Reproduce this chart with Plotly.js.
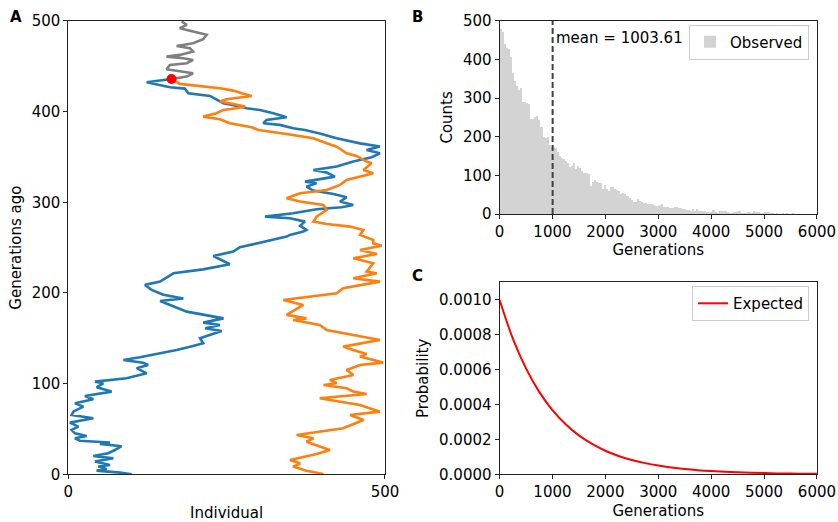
<!DOCTYPE html>
<html><head><meta charset="utf-8">
<script src="https://cdn.plot.ly/plotly-3.0.1.min.js"></script>
<style>html,body{margin:0;padding:0;background:#fff}#chart{width:838px;height:522px}</style>
</head><body><div id="chart"></div>
<script>
// ---------- Panel A: lineages (individual index vs generations ago) ----------
const blueInd = [100,81.6,44.7,60.5,47.4,65.8,42,71,39.5,63,73.7,84,50,65.8,18.4,10.5,29,10.5,5.3,15.8,2.6,39.5,5.3,7.9,23.7,10.5,39.5,26.3,68.4,44.7,55.3,42.1,92,123.7,108,126,118,87,113,145,171,197,213,208,224,242,216,239.5,213,245,187,171,161,145,181.6,150,131.6,121,145,166,213,255,229,260.5,271,302.6,344.7,350,371,376,366,373.7,350,310.5,355,392,431.6,450,429,439.5,418.4,387,376,392,373.7,421,408,387,423.7,450,479,492,471,492,460.5,423.7,397,373.7,355,334,308,313,344.7,323.7,302.6,281.6,271,244.7,234,223.7,189.5,184,160.5,150,123.7,144.7,163];
const blueGen = [0,1.8,4,5.9,8.5,10.3,14,17.6,20.2,23.2,26.8,31,33.5,35,37,39.7,42.3,45.2,48.9,52.6,57,61.8,65.4,69.1,74.6,78.3,82.7,86.4,91.2,96,100.4,102.2,105.9,111.4,117,120.6,123,126,129,133.5,137,141.6,144.5,150,153.7,158,161,164.7,167.3,172,179.4,184.2,186.8,191.2,194,198,203.3,208.9,212.5,221.7,226,231.7,240.8,245.6,250.4,255.5,262.2,264,267.7,269.5,274,278.7,282.4,284.2,288,292.3,294.5,297,300.8,305.6,309.2,313,317.3,321,322.8,328.3,332.8,335.7,339.4,345,349.7,354,357.8,361.5,365,370.6,376,379.8,381.7,385.4,387.2,390.9,393.8,398.2,401.9,403.7,405.6,409.3,413,417.3,420.3,425.4,426.9,428.4,432.4,434.3,436.1];

const orangeInd = [402.6,376,355,366,350,392,413,376,387,360.5,434,466,445,492,460.5,429,397,471,450,439.5,403,423.7,413,450,439.5,460.5,497,460.5,471,450,434,492,450,408,397,355,376,344.7,371,339.5,423.7,434,492,450,487,471,481.5,450,487,460.5,494.7,481.5,481.5,460.5,465.8,444.7,408,387,392,408,402.6,366,344.7,366,408,429,439.5,460.5,481.5,466,479,471,455,439.5,423.7,408,386.8,344.7,300,289.5,271,255,239.5,213,234,244.7,265.8,279,260.5,239.5,250,271,289.5,273.7,260.5,239.5,208,176,163];
const orangeGen = [0.4,4,8.5,12.1,15.8,22.4,26.8,36,39.7,43.4,50.7,59.9,65.4,69.1,76.5,80.2,83.8,88.6,91.2,94.9,98.5,100.4,104.1,109.6,115.1,120.6,123.2,129.8,132.7,137.2,140.8,148.2,153.7,159.2,164.7,170.2,172,175.8,186.8,192.3,199.7,205.2,212.5,216.2,221.7,223.6,232.8,238.3,243,247.5,252,254.8,258.5,264,269.5,273.2,276.1,278.7,284.2,291.6,297.1,300.8,304.5,310,313.6,319.2,324.7,328.3,332,335.7,343,344.9,351.2,354,361.4,365.1,370.6,375.4,379.8,382.8,385.4,387.2,391.6,394.5,398.2,401.9,403.7,405.6,408.5,411.1,413.7,415.9,417.3,420.3,423.2,425.8,428.4,430.6,436.1];

const grayInd = [163,187,197,176,155,160.5,187,197,181.6,155,176,197,192,171,197,213,218.4,197,176,187,179];
const grayGen = [436.1,438.7,442.3,444.2,446.7,451.5,453.4,457,458.9,460.7,462.6,466.3,470,472.5,475.5,479.9,484.7,488.4,492,495.7,499.4];

const mrcaInd = [163];
const mrcaGen = [436.1];

const panelAXTicks = [0, 500];
const panelAYTicks = [0, 100, 200, 300, 400, 500];

// ---------- Panel B: histogram of coalescence times ----------
const histBinStart = 0;
const histBinWidth = 38.7;
const histCounts = [478,470,440,430,428,405,364,345,330,322,326,291,289,288,284,245,246,252,254,244,
  226,200,196,200,179,174,174,170,161,149,144,142,136,133,122,125,133,116,124,118,
  110,105,105,104,72,84,88,84,80,80,64,76,66,60,71,70,66,62,60,52,
  55,52,46,42,36,30,32,38,33,30,28,28,27,26,25,24,22,22,24,26,
  19,19,19,16,16,17,17,16,16,13,13,10,10,7,13,7,13,9,9,7,
  9,4,4,4,10,4,3,7,9,9,8,4,3,3,4,4,7,7,3,3,
  3,4,4,3,9,4,4,2,3,4,5,4,2,2,1,2,1,1,2,1,
  2,1,1,2,1,1,0,1,1,1];
const meanValue = 1003.61;

// ---------- Panel C: expected distribution ----------
const expGen = [0,250,500,750,1000,1250,1500,1750,2000,2250,2500,2750,3000,3250,3500,3750,4000,4250,4500,4750,5000,5250,5500,5750,6000];
const expProb = [0.001,0.000779,0.000607,0.000472,0.000368,0.000287,0.000223,0.000174,0.000135,0.000105,0.000082,0.000064,0.0000498,0.0000388,0.0000302,0.0000235,0.0000183,0.0000143,0.0000111,0.0000087,0.0000067,0.0000052,0.0000041,0.0000032,0.0000025];

const histCenters = histCounts.map((_, i) => histBinStart + histBinWidth * (i + 0.5));

const FONT = 'DejaVu Sans, sans-serif';
const FS = 15;

const traces = [
  {x: grayInd, y: grayGen, type: 'scatter', mode: 'lines', line: {color: '#7f7f7f', width: 2.6}, showlegend: false, xaxis: 'x', yaxis: 'y'},
  {x: blueInd, y: blueGen, type: 'scatter', mode: 'lines', line: {color: '#1f77b4', width: 2.6}, showlegend: false, xaxis: 'x', yaxis: 'y'},
  {x: orangeInd, y: orangeGen, type: 'scatter', mode: 'lines', line: {color: '#ff7f0e', width: 2.6}, showlegend: false, xaxis: 'x', yaxis: 'y'},
  {x: mrcaInd, y: mrcaGen, type: 'scatter', mode: 'markers', marker: {color: '#ff0000', size: 10}, showlegend: false, xaxis: 'x', yaxis: 'y'},
  {x: histCenters, y: histCounts, type: 'bar', width: histBinWidth, marker: {color: '#d3d3d3', line: {width: 0}}, name: 'Observed', legend: 'legend', xaxis: 'x2', yaxis: 'y2'},
  {x: [meanValue, meanValue], y: [0, 500], type: 'scatter', mode: 'lines', line: {color: '#404040', width: 2, dash: '6px,3px'}, showlegend: false, xaxis: 'x2', yaxis: 'y2'},
  {x: expGen, y: expProb, type: 'scatter', mode: 'lines', line: {color: '#ff0000', width: 2, shape: 'spline', smoothing: 1}, name: 'Expected', legend: 'legend2', xaxis: 'x3', yaxis: 'y3'}
];

const axBase = {
  showline: true, mirror: true, linecolor: '#222', linewidth: 1,
  ticks: 'outside', ticklen: 4, tickwidth: 1, tickcolor: '#222',
  showgrid: false, zeroline: false,
  tickfont: {family: FONT, size: FS, color: '#000'}
};
const titleFont = {family: FONT, size: FS, color: '#000'};

const layout = {
  width: 838, height: 522,
  margin: {l: 0, r: 0, t: 0, b: 0},
  paper_bgcolor: '#fff', plot_bgcolor: '#fff',
  bargap: 0,
  font: {family: FONT, size: FS, color: '#000'},
  xaxis: Object.assign({}, axBase, {domain: [0.0815, 0.4594], range: [0, 500], tickvals: panelAXTicks, anchor: 'y',
    title: {text: 'Individual', font: titleFont, standoff: 7}}),
  yaxis: Object.assign({}, axBase, {domain: [0.0914, 0.9598], range: [0, 500], tickvals: panelAYTicks, anchor: 'x',
    title: {text: 'Generations ago', font: titleFont, standoff: 6}}),
  xaxis2: Object.assign({}, axBase, {domain: [0.5961, 0.9749], range: [0, 6000], dtick: 1000, anchor: 'y2',
    title: {text: 'Generations', font: titleFont, standoff: 0}}),
  yaxis2: Object.assign({}, axBase, {domain: [0.5900, 0.9603], range: [0, 500], dtick: 100, anchor: 'x2',
    title: {text: 'Counts', font: titleFont, standoff: 6}}),
  xaxis3: Object.assign({}, axBase, {domain: [0.5961, 0.9749], range: [0, 6000], dtick: 1000, anchor: 'y3',
    title: {text: 'Generations', font: titleFont, standoff: 5}}),
  yaxis3: Object.assign({}, axBase, {domain: [0.0914, 0.4592], range: [0, 0.0011], tickvals: [0, 0.0002, 0.0004, 0.0006, 0.0008, 0.0010], tickformat: '.4f', anchor: 'x3',
    title: {text: 'Probability', font: titleFont, standoff: 6}}),
  legend: {x: 0.9654, xanchor: 'right', y: 0.953, yanchor: 'top', bgcolor: 'rgba(255,255,255,0.8)', bordercolor: '#cccccc', borderwidth: 1, font: {family: FONT, size: FS, color: '#000'}},
  legend2: {x: 0.9654, xanchor: 'right', y: 0.452, yanchor: 'top', bgcolor: 'rgba(255,255,255,0.8)', bordercolor: '#cccccc', borderwidth: 1, font: {family: FONT, size: FS, color: '#000'}},
  annotations: [
    {text: '<b>A</b>', xref: 'paper', yref: 'paper', x: 0.0095, y: 0.988, xanchor: 'left', yanchor: 'top', showarrow: false, font: {family: FONT, size: 15, color: '#000'}},
    {text: '<b>B</b>', xref: 'paper', yref: 'paper', x: 0.4895, y: 0.988, xanchor: 'left', yanchor: 'top', showarrow: false, font: {family: FONT, size: 15, color: '#000'}},
    {text: '<b>C</b>', xref: 'paper', yref: 'paper', x: 0.4895, y: 0.492, xanchor: 'left', yanchor: 'top', showarrow: false, font: {family: FONT, size: 15, color: '#000'}},
    {text: 'mean = ' + meanValue.toFixed(2), xref: 'x2', yref: 'y2', x: meanValue + 25, y: 456, xanchor: 'left', yanchor: 'middle', showarrow: false, font: {family: FONT, size: FS, color: '#000'}}
  ]
};

Plotly.newPlot('chart', traces, layout, {displayModeBar: false, staticPlot: true});
</script></body></html>
